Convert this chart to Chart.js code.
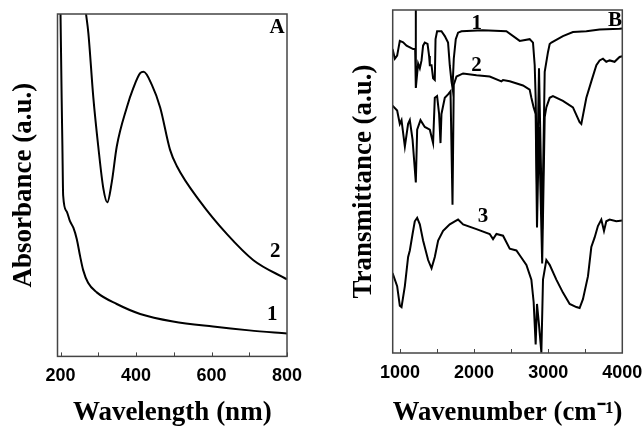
<!DOCTYPE html>
<html>
<head>
<meta charset="utf-8">
<title>UV-Vis and FTIR spectra</title>
<script src="https://cdn.jsdelivr.net/npm/chart.js@4.4.1/dist/chart.umd.min.js"></script>
<style>
  html, body { margin: 0; padding: 0; background: #fff; }
  #wrap { position: relative; width: 644px; height: 427px; overflow: hidden; }
  #uv { position: absolute; left: 0; top: 0; }
  #ir { position: absolute; left: 310px; top: 0; }
</style>
</head>
<body>
<div id="wrap">
  <canvas id="uv" width="320" height="427"></canvas>
  <canvas id="ir" width="350" height="427"></canvas>
</div>
<script>
// ---- panel A : UV-Vis absorbance (arbitrary units, 0-100) ----
var uvWave1 = [200, 203, 205, 207, 216, 225, 234, 243, 252, 260, 273, 296, 349, 411, 498, 604, 700, 800];
var uvAbs1  = [100, 75.5, 61.3, 47, 42.4, 39.5, 37.6, 34.3, 29.2, 25.2, 21.5, 18.7, 15.3, 12.4, 10.2, 8.7, 7.6, 6.7];

var uvWave2 = [267.6, 273.7, 287, 300, 313.5, 324, 335.8, 349, 375.6, 393, 411, 420, 442, 464, 490, 508, 570, 641, 711, 800];
var uvAbs2  = [100, 94.5, 75.5, 61.3, 49, 45, 50.9, 61.3, 72.7, 78.4, 82.7, 83.1, 79.3, 72.7, 60.4, 55.6, 45.2, 35.7, 28.1, 22.5];

var uvTickMarks = [200, 300, 400, 500, 600, 700, 800];
var uvTicks = [200, 400, 600, 800];

// ---- panel B : FTIR transmittance (arbitrary units, 0-100) ----
var irWave1 = [900, 931, 962, 998, 1043, 1089, 1178, 1205, 1212, 1216, 1245, 1268, 1291, 1312, 1335, 1372, 1393, 1403,
               1426, 1447, 1470, 1480, 1501, 1560, 1605, 1649, 1672, 1695, 1709, 1726, 1753, 1784, 1830, 2117, 2436,
               2616, 2750, 2795, 2818, 2831, 2849, 2876, 2919, 2953, 2997, 3020, 3043, 3199, 3334, 3515, 3694, 3963, 4000];
var irTrans1 = [88.6, 85.8, 86.7, 91.0, 90.6, 89.6, 88.6, 88.6, 100, 77.3, 84.4, 83.0, 85.3, 89.6, 90.5, 90.1, 86.6, 83.9,
                83.9, 80.1, 79.6, 91.5, 93.8, 93.8, 92.4, 90.5, 83.9, 79.2, 77.3, 85.8, 91.5, 93.4, 93.8, 94.1, 93.8,
                91.0, 91.5, 90.5, 83.9, 74.4, 48.9, 83.0, 36.1, 82.0, 87.7, 90.1, 90.5, 92.4, 93.6, 93.8, 94.3, 94.5, 94.6];

var irWave2 = [900, 962, 998, 1021, 1066, 1110, 1133, 1170, 1214, 1232, 1277, 1335, 1403, 1447, 1470, 1501, 1528, 1547,
               1560, 1605, 1649, 1682, 1709, 1726, 1763, 1852, 2032, 2211, 2369, 2391, 2481, 2660, 2750, 2773, 2804,
               2831, 2849, 2876, 2919, 2953, 2975, 3020, 3064, 3199, 3334, 3424, 3447, 3515, 3582, 3650, 3694, 3739,
               3784, 3829, 3896, 3963, 4000];
var irTrans2 = [72.1, 70.7, 66.8, 67.9, 60.2, 66.8, 67.9, 62.2, 49.7, 65.1, 67.9, 65.9, 65.1, 61.2, 74.4, 74.9, 69.7, 61.2,
                69.7, 74.4, 75.4, 76.3, 43.2, 78.2, 80.6, 81.5, 81.0, 80.6, 79.2, 79.6, 79.2, 78.0, 76.8, 74.4, 71.6,
                69.7, 36.6, 65.9, 26.1, 68.8, 71.6, 74.4, 74.9, 73.5, 71.6, 67.3, 66.8, 74.4, 79.2, 83.9, 85.3, 85.8,
                84.9, 85.3, 84.9, 86.3, 86.5];

var irWave3 = [900, 962, 998, 1021, 1066, 1110, 1133, 1170, 1200, 1232, 1268, 1312, 1380, 1426, 1470, 1515, 1582, 1628,
               1672, 1740, 1784, 1852, 2032, 2211, 2256, 2302, 2391, 2481, 2571, 2616, 2706, 2773, 2804, 2831, 2849,
               2876, 2908, 2930, 2975, 3020, 3110, 3199, 3290, 3380, 3424, 3469, 3537, 3582, 3627, 3671, 3717, 3753,
               3784, 3829, 3919, 4000];
var irTrans3 = [23.3, 19.5, 13.8, 13.4, 19.5, 28.0, 29.9, 34.7, 38.4, 39.4, 37.5, 32.8, 27.1, 24.7, 28.0, 32.8, 35.6, 36.6,
                37.5, 38.4, 38.9, 37.5, 36.1, 34.7, 33.2, 34.7, 34.2, 30.4, 29.9, 28.5, 25.7, 21.4, 14.8, 2.5, 14.3,
                8.2, 0.1, 21.4, 27.1, 25.7, 21.4, 17.6, 14.3, 13.4, 13.1, 15.7, 22.4, 30.9, 33.7, 37.0, 38.9, 35.6,
                38.4, 38.9, 38.4, 38.6];

var irTickMarks = [1000, 1500, 2000, 2500, 3000, 3500, 4000];
var irTicks = [1000, 2000, 3000, 4000];

function pts(xs, ys) {
    return xs.map(function (x, i) { return { x: x, y: ys[i] }; });
}

var serif = "'Liberation Serif', 'Times New Roman', serif";
var sans = "'Liberation Sans', Arial, sans-serif";

// frame, inward ticks and curve numbers
var framePlugin = {
    id: 'frame',
    afterDatasetsDraw: function (chart, args, opts) {
        var ctx = chart.ctx, a = chart.chartArea, xs = chart.scales.x, ys = chart.scales.y;
        ctx.save();
        ctx.strokeStyle = '#444';
        ctx.lineWidth = 1.5;
        ctx.strokeRect(a.left, a.top, a.right - a.left, a.bottom - a.top);
        ctx.lineWidth = 1;
        xs.ticks.forEach(function (t) {
            var px = Math.round(xs.getPixelForValue(t.value)) + 0.5;
            ctx.beginPath();
            ctx.moveTo(px, a.bottom);
            ctx.lineTo(px, a.bottom - 4);
            ctx.stroke();
        });
        ctx.fillStyle = '#000';
        ctx.textAlign = 'center';
        ctx.textBaseline = 'middle';
        ctx.font = 'bold 21px ' + serif;
        (opts.labels || []).forEach(function (l) {
            ctx.fillText(l.text, xs.getPixelForValue(l.x), ys.getPixelForValue(l.y));
        });
        ctx.restore();
    }
};

function lineSet(data, smooth) {
    return {
        data: data,
        borderColor: '#000',
        borderWidth: 2,
        pointRadius: 0,
        fill: false,
        tension: smooth ? 0.4 : 0,
        cubicInterpolationMode: smooth ? 'monotone' : 'default'
    };
}

function options(xMin, xMax, marks, shown, xTitle, yTitle, pad, yPad, xPad, labels) {
    return {
        responsive: false,
        animation: false,
        layout: { padding: pad },
        plugins: { legend: { display: false }, tooltip: { enabled: false }, frame: { labels: labels } },
        scales: {
            x: {
                type: 'linear',
                min: xMin, max: xMax,
                afterBuildTicks: function (axis) {
                    axis.ticks = marks.map(function (v) { return { value: v }; });
                },
                grid: { display: false, drawTicks: false },
                border: { display: false },
                ticks: {
                    autoSkip: false,
                    padding: 9,
                    color: '#000',
                    maxRotation: 0,
                    font: { family: sans, size: 18, weight: 'bold' },
                    callback: function (v) { return shown.indexOf(Math.round(v)) >= 0 ? String(Math.round(v)) : ''; }
                },
                title: {
                    display: true, text: xTitle, color: '#000',
                    font: { family: serif, size: 27, weight: 'bold', lineHeight: 1 },
                    padding: xPad
                }
            },
            y: {
                min: 0, max: 100,
                grid: { display: false, drawTicks: false },
                border: { display: false },
                ticks: { display: false },
                title: {
                    display: true, text: yTitle, color: '#000',
                    font: { family: serif, size: 27, weight: 'bold', lineHeight: 1 },
                    padding: yPad
                }
            }
        }
    };
}

new Chart(document.getElementById('uv'), {
    type: 'line',
    data: { datasets: [lineSet(pts(uvWave1, uvAbs1), true), lineSet(pts(uvWave2, uvAbs2), true)] },
    options: options(192, 800, uvTickMarks, uvTicks, 'Wavelength (nm)', 'Absorbance (a.u.)',
        { left: 0, right: 33, top: 14, bottom: 0 },
        { top: 11, bottom: 19.5 },
        { top: 3.5, bottom: 0.5 },
        [{ text: 'A', x: 774, y: 96 }, { text: '2', x: 769, y: 30.6 }, { text: '1', x: 761, y: 12.2 }]),
    plugins: [framePlugin]
});

new Chart(document.getElementById('ir'), {
    type: 'line',
    data: { datasets: [lineSet(pts(irWave1, irTrans1), false), lineSet(pts(irWave2, irTrans2), false), lineSet(pts(irWave3, irTrans3), false)] },
    options: options(902, 4000, irTickMarks, irTicks, 'Wavenumber (cm\u207B\u00B9)', 'Transmittance (a.u.)',
        { left: 40, right: 37.7, top: 10, bottom: 0 },
        { top: 0.5, bottom: 15.2 },
        { top: 6.9, bottom: 0.5 },
        [{ text: 'B', x: 3900, y: 97 }, { text: '1', x: 2036, y: 96 }, { text: '2', x: 2032, y: 83.8 }, { text: '3', x: 2121, y: 39.8 }]),
    plugins: [framePlugin]
});
</script>
</body>
</html>
